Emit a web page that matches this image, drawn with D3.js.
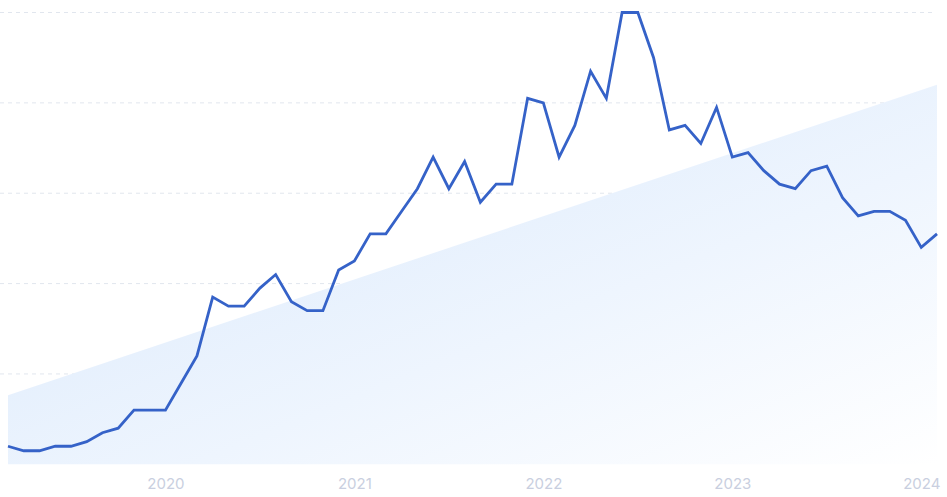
<!DOCTYPE html>
<html>
<head>
<meta charset="utf-8">
<script src="https://cdn.jsdelivr.net/npm/d3@7/dist/d3.min.js"></script>
<style>
  html, body { margin: 0; padding: 0; background: #ffffff; }
  svg { display: block; }
</style>
</head>
<body>
<svg id="chart" width="947" height="497"></svg>
<script>
// Monthly interest, Mar 2019 – Feb 2024
const months = d3.range(60).map(i => new Date(2019, 2 + i, 1));
const values = [4,3,3,4,4,5,7,8,12,12,12,18,24,37,35,35,39,42,36,34,34,43,45,51,51,56,61,68,61,67,58,62,62,81,80,68,75,87,81,100,100,90,74,75,71,79,68,69,65,62,61,65,66,59,55,56,56,54,48,51];
// trend line values at first and last month
const trendValues = [15.3, 84];
const gridValues = [20, 40, 60, 80, 100];
const tickYears = [2020, 2021, 2022, 2023, 2024];

const svg = d3.select("#chart");
const margin = {left: 8, right: 10, top: 12.5, bottom: 32.7};
const W = 947, H = 497;

const x = d3.scaleLinear()
  .domain([0, months.length - 1])
  .range([margin.left, W - margin.right]);
const y = d3.scaleLinear()
  .domain([0, 100])
  .range([H - margin.bottom, margin.top]);

// gradient
const defs = svg.append("defs");
const grad = defs.append("linearGradient")
  .attr("id", "trendGrad")
  .attr("x1", "0").attr("y1", "0").attr("x2", "1").attr("y2", "1");
grad.append("stop").attr("offset", "0").attr("stop-color", "#d7e7fb");
grad.append("stop").attr("offset", "0.6").attr("stop-color", "#eef5fe");
grad.append("stop").attr("offset", "1").attr("stop-color", "#ffffff");

// grid
svg.append("g").selectAll("line").data(gridValues).join("line")
  .attr("x1", 0).attr("x2", 935)
  .attr("y1", d => y(d)).attr("y2", d => y(d))
  .attr("stroke", "#e1e6ee").attr("stroke-width", 1)
  .attr("stroke-dasharray", "4,4");

// trend area
const trendData = [
  {i: 0, v: trendValues[0]},
  {i: months.length - 1, v: trendValues[1]}
];
svg.append("path")
  .datum(trendData)
  .attr("fill", "url(#trendGrad)")
  .attr("d", d3.area().x(d => x(d.i)).y0(y(0)).y1(d => y(d.v)));

// line
svg.append("path")
  .datum(values)
  .attr("fill", "none")
  .attr("stroke", "#3562c8")
  .attr("stroke-width", 2.8)
  .attr("stroke-linejoin", "miter")
  .attr("d", d3.line().x((d, i) => x(i)).y(d => y(d)));

// x axis (year ticks at January of each year)
const axis = d3.axisBottom(x)
  .tickValues(tickYears.map(yy => months.findIndex(m => m.getFullYear() === yy && m.getMonth() === 0)))
  .tickFormat(i => String(months[i].getFullYear()))
  .tickSize(0).tickPadding(0);
const ga = svg.append("g").attr("transform", `translate(0,${H - margin.bottom})`).call(axis);
ga.select(".domain").remove();
ga.selectAll("text")
  .attr("y", 25)
  .attr("dy", 0)
  .attr("fill", "#c9cfe0")
  .style("font-family", "Inter, 'Open Sans', sans-serif")
  .style("font-size", "15px");
</script>
</body>
</html>
